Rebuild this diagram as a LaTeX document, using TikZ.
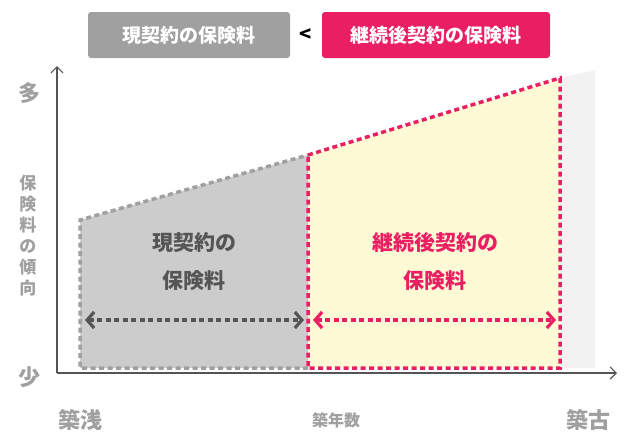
\documentclass[tikz,border=0pt]{standalone}
\usepackage{fontspec}
\setmainfont{Noto Sans CJK JP}
\usetikzlibrary{arrows.meta}
\definecolor{custom-pink}{RGB}{233, 30, 99}
\definecolor{custom-gray}{RGB}{160, 160, 160}
\definecolor{custom-dark}{RGB}{85, 85, 85}
\definecolor{custom-fill}{RGB}{204, 204, 204}
\definecolor{custom-yellow}{RGB}{255, 250, 214}
\tikzset{
  titlebox/.style={rounded corners=3pt, text=white, font=\bfseries\fontsize{19}{22}\selectfont, minimum height=46pt, inner xsep=10pt},
  axislabel/.style={text=custom-gray, font=\bfseries\fontsize{22}{26}\selectfont},
  regionlabel/.style={font=\bfseries\fontsize{21}{38}\selectfont, align=center},
  dashedge/.style={line width=3.5pt, dash pattern=on 5pt off 3.5pt},
  spanarrow/.style={line width=3.2pt, dash pattern=on 5pt off 3.5pt, {Straight Barb[length=7pt,width=16pt]}-{Straight Barb[length=7pt,width=16pt]}}
}
\begin{document}
\begin{tikzpicture}[x=1pt,y=-1pt]
\useasboundingbox[fill=white] (0,0) rectangle (625,445);
% titles
\node[titlebox, fill=custom-gray, minimum width=202pt] (current) at (189,35) {現契約の保険料};
\node[font=\bfseries\fontsize{20}{22}\selectfont] (less) at (306,35) {<};
\node[titlebox, fill=custom-pink, minimum width=228pt] (renewal) at (436,35) {継続後契約の保険料};
% regions
\fill[black!5] (560,78) -- (595,70) -- (595,368) -- (560,368) -- cycle;
\fill[custom-yellow] (308,155) -- (560,78) -- (560,368) -- (308,368) -- cycle;
\fill[custom-fill] (80,220) -- (308,155) -- (308,368) -- (80,368) -- cycle;
\draw[dashedge, custom-gray] (308,368) -- (80,368) -- (80,220) -- (308,155);
\draw[dashedge, custom-pink] (308,155) -- (560,78) -- (560,368) -- (308,368) -- cycle;
% axes
\coordinate (origin) at (57,373);
\coordinate (top) at (57,66);
\coordinate (right) at (617,373);
\draw[custom-dark, line width=1.2pt, -{Straight Barb[length=6pt,width=12pt]}] (origin) -- (top);
\draw[custom-dark, line width=1.2pt, -{Straight Barb[length=6pt,width=12pt]}] (origin) -- (right);
\node[axislabel] (many) at (29,93) {多};
\node[axislabel] (few) at (29,377) {少};
\node[text=custom-gray, font=\bfseries\fontsize{17}{21}\selectfont, align=center] (trend) at (28,236) {保\\険\\料\\の\\傾\\向};
\node[axislabel] (new) at (80,420) {築浅};
\node[text=custom-gray, font=\bfseries\fontsize{16}{18}\selectfont] (age) at (336,420) {築年数};
\node[axislabel] (old) at (588,420) {築古};
% region labels
\node[regionlabel, text=custom-dark] (curlabel) at (194,262) {現契約の\\保険料};
\node[regionlabel, text=custom-pink] (renlabel) at (435,262) {継続後契約の\\保険料};
\coordinate (a1) at (85,320);
\coordinate (a2) at (304,320);
\coordinate (b1) at (313,320);
\coordinate (b2) at (556,320);
\draw[spanarrow, custom-dark] (a1) -- (a2);
\draw[spanarrow, custom-pink] (b1) -- (b2);
\end{tikzpicture}
\end{document}
